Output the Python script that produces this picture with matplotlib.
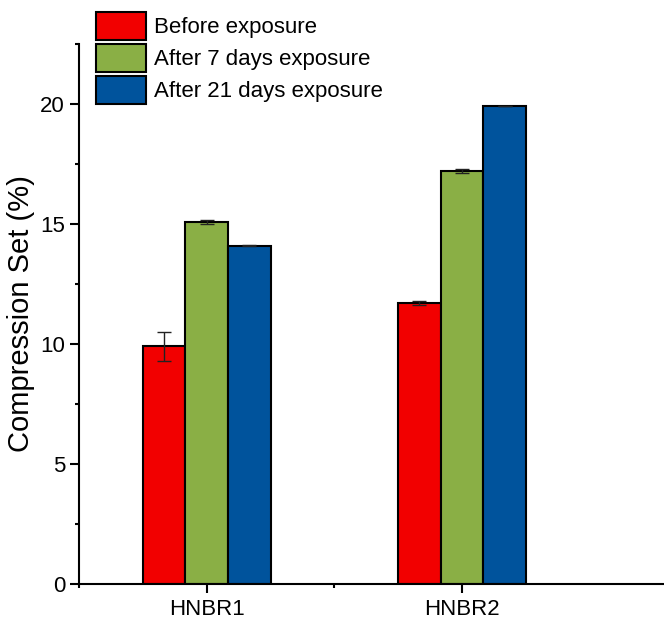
import numpy as np
import matplotlib
matplotlib.use("Agg")
import matplotlib.pyplot as plt

# Data
samples = ["HNBR1", "HNBR2"]
series = ["Before exposure", "After 7 days exposure", "After 21 days exposure"]
before = [9.9, 11.7]
after7 = [15.1, 17.2]
after21 = [14.1, 19.9]
before_err = [0.6, 0.08]
after7_err = [0.08, 0.08]
after21_err = [0.03, 0.0]
colors = ["#f20000", "#8aaf45", "#00539c"]

plt.rcParams['font.family'] = ['Liberation Sans', 'DejaVu Sans']

fig = plt.figure(figsize=(6.64, 6.24), dpi=100)
ax = fig.add_axes([79 / 664, 40 / 624, 600 / 664, 540 / 624])

x = np.arange(1, len(samples) + 1)
w = 0.167
values = [before, after7, after21]
errs = [before_err, after7_err, after21_err]
for i, (vals, err) in enumerate(zip(values, errs)):
    ax.bar(x + (i - 1) * w, vals, width=w, color=colors[i], edgecolor='black',
           linewidth=1.5, label=series[i], zorder=2)
    ax.errorbar(x + (i - 1) * w, vals, yerr=err, fmt='none', ecolor='#222222',
                elinewidth=1, capsize=5, capthick=1, zorder=3)

ax.set_xlim(0.5, 2.85)
ax.set_ylim(0, 22.5)
ax.set_xticks(x)
ax.set_xticklabels(samples)
ax.set_xticks([0.5, 1.5], minor=True)
ax.set_yticks([0, 5, 10, 15, 20])
ax.set_yticks(np.arange(2.5, 23, 5), minor=True)
ax.set_ylabel("Compression Set (%)", fontsize=21, labelpad=4)

for s in ['top', 'right']:
    ax.spines[s].set_visible(False)
for s in ['left', 'bottom']:
    ax.spines[s].set_linewidth(1.5)
ax.tick_params(which='major', direction='out', length=6.5, width=1.5, labelsize=16)
ax.tick_params(axis='x', which='major', pad=4.5)
ax.tick_params(which='minor', direction='out', length=3, width=1.5)

ax.legend(loc='upper left', bbox_to_anchor=(96 / 664, 1 - 12 / 624),
          bbox_transform=fig.transFigure, frameon=False, fontsize=16,
          handlelength=2.25, handleheight=1.56, labelspacing=0.18,
          handletextpad=0.35, borderpad=0, borderaxespad=0)

plt.savefig("out.png", dpi=100)
